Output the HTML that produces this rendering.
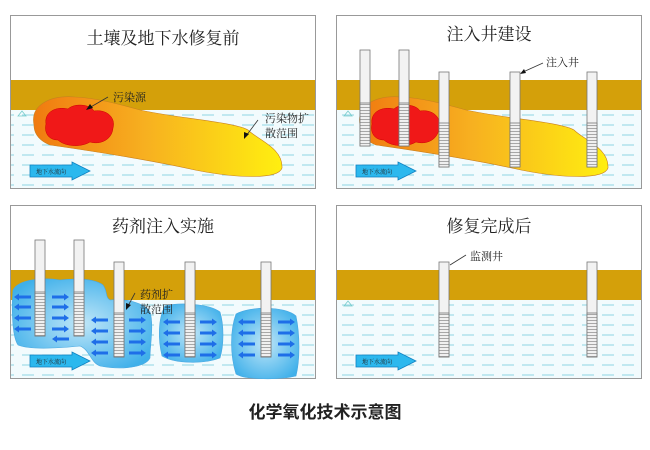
<!DOCTYPE html>
<html><head><meta charset="utf-8"><style>
html,body{margin:0;padding:0;background:#fff;width:650px;height:450px;overflow:hidden}
svg{display:block}
text{font-family:"Liberation Serif","Noto Serif CJK SC",serif}
</style></head><body>
<svg width="650" height="450" viewBox="0 0 650 450" xmlns="http://www.w3.org/2000/svg">
<defs>
<pattern id="water" width="20" height="10" patternUnits="userSpaceOnUse">
<rect width="20" height="10" fill="#f2fbfd"/>
<line x1="2" y1="5" x2="14" y2="5" stroke="#8fd6e2" stroke-width="1"/>
</pattern>
<pattern id="screen" width="10" height="3" patternUnits="userSpaceOnUse">
<rect width="10" height="3" fill="#f0f0f0"/>
<line x1="0" y1="2.5" x2="10" y2="2.5" stroke="#888" stroke-width="0.7"/>
</pattern>
<linearGradient id="plume" x1="0" x2="1" y1="0" y2="0">
<stop offset="0" stop-color="#f07a10"/><stop offset="0.45" stop-color="#f7b020"/><stop offset="1" stop-color="#ffef10"/>
</linearGradient>
<radialGradient id="blob" cx="0.5" cy="0.5" r="0.6">
<stop offset="0" stop-color="#bfe6f8"/><stop offset="1" stop-color="#3fb0ea"/>
</radialGradient>
<g id="gwarrow">
<polygon points="0,3 42,3 42,0 60,9 42,18 42,15 0,15" fill="#2cb8ee" stroke="#1080c0" stroke-width="0.8"/>
<text x="6" y="12" font-size="6" fill="#222">地下水流向</text>
</g>
<g id="ra"><polygon points="0,-1.5 12,-1.5 12,-3.5 17,0 12,3.5 12,1.5 0,1.5" fill="#1e6ee8"/></g>
<g id="la"><polygon points="17,-1.5 5,-1.5 5,-3.5 0,0 5,3.5 5,1.5 17,1.5" fill="#1e6ee8"/></g>
<path id="red" d="M46,124 C44,112 56,106 68,109 C74,103 90,104 94,111 C106,109 116,117 113,128 C112,140 100,145 90,142 C80,148 64,146 58,140 C48,140 44,132 46,124 Z" fill="#f01818" stroke="#c00" stroke-width="0.5"/>
</defs>

<g stroke="#999" stroke-width="1">
<rect x="10.5" y="15.5" width="305" height="173" fill="#fff"/>
<rect x="336.5" y="15.5" width="305" height="173" fill="#fff"/>
<rect x="10.5" y="205.5" width="305" height="173" fill="#fff"/>
<rect x="336.5" y="205.5" width="305" height="173" fill="#fff"/>
</g>
<rect x="11" y="80" width="304" height="30" fill="#d4a00a"/>
<rect x="11" y="110" width="304" height="78" fill="url(#water)"/>
<rect x="337" y="80" width="304" height="30" fill="#d4a00a"/>
<rect x="337" y="110" width="304" height="78" fill="url(#water)"/>
<rect x="11" y="270" width="304" height="30" fill="#d4a00a"/>
<rect x="11" y="300" width="304" height="78" fill="url(#water)"/>
<rect x="337" y="270" width="304" height="30" fill="#d4a00a"/>
<rect x="337" y="300" width="304" height="78" fill="url(#water)"/>
<g fill="none" stroke="#7cc" stroke-width="0.8">
<polygon points="18,116 22,111 26,116"/><polygon points="344,116 348,111 352,116"/><polygon points="344,306 348,301 352,306"/>
</g>

<g font-size="17" fill="#222" text-anchor="middle">
<text x="163" y="44">土壤及地下水修复前</text>
<text x="489" y="40">注入井建设</text>
<text x="163" y="232">药剂注入实施</text>
<text x="489" y="232">修复完成后</text>
</g>

<path d="M34,125 C30,105 50,95 75,97 C95,98 115,103 140,110 C175,118 235,122 248,130 C258,140 283,148 282,168 C278,180 235,178 195,170 C150,160 85,150 50,145 C38,140 34,133 34,125 Z" fill="url(#plume)" stroke="#c88020" stroke-width="0.6"/>
<use href="#red"/>
<g font-size="11" fill="#222"><text x="113" y="101">污染源</text><text x="265" y="122">污染物扩</text><text x="265" y="137">散范围</text></g>
<line x1="108" y1="97" x2="89" y2="108" stroke="#333" stroke-width="0.8"/><polygon points="86,110 90,104 93,108" fill="#111"/>
<line x1="258" y1="120" x2="246" y2="136" stroke="#333" stroke-width="0.8"/><polygon points="244,139 244,132 249,134" fill="#111"/>
<use href="#gwarrow" x="30" y="162"/>

<path d="M360,125 C356,105 376,95 401,97 C421,98 441,103 466,110 C501,118 561,122 574,130 C584,140 609,148 608,168 C604,180 561,178 521,170 C476,160 411,150 376,145 C364,140 360,133 360,125 Z" fill="url(#plume)" stroke="#c88020" stroke-width="0.6"/>
<use href="#red" x="326"/>
<use href="#gwarrow" x="356" y="162"/>
<text x="546" y="66" font-size="11" fill="#222">注入井</text>
<line x1="543" y1="63" x2="523" y2="72" stroke="#333" stroke-width="0.8"/><polygon points="520,74 524,69 526,73" fill="#111"/>

<g stroke="#777" stroke-width="0.8">
<rect x="360" y="50" width="10" height="96" fill="#f2f2f2"/><rect x="360" y="103" width="10" height="43" fill="url(#screen)"/>
<rect x="399" y="50" width="10" height="96" fill="#f2f2f2"/><rect x="399" y="103" width="10" height="43" fill="url(#screen)"/>
<rect x="439" y="72" width="10" height="95" fill="#f2f2f2"/><rect x="439" y="123" width="10" height="44" fill="url(#screen)"/>
<rect x="510" y="72" width="10" height="95" fill="#f2f2f2"/><rect x="510" y="123" width="10" height="44" fill="url(#screen)"/>
<rect x="587" y="72" width="10" height="95" fill="#f2f2f2"/><rect x="587" y="123" width="10" height="44" fill="url(#screen)"/>
</g>

<g fill="url(#blob)" stroke="#4aa8e0" stroke-width="0.6">
<path d="M13,290 C18,280 40,277 60,280 C80,278 95,279 103,285 C108,292 105,297 110,300 C125,298 145,303 150,312 C154,325 150,345 150,358 C145,368 120,370 100,366 C90,362 90,350 80,346 C60,348 30,350 18,345 C11,335 12,300 13,290 Z"/>
<path d="M165,306 C180,302 210,304 220,312 C224,325 224,345 220,358 C205,364 175,364 162,356 C158,340 158,318 165,306 Z"/>
<path d="M236,314 C250,306 285,306 296,316 C300,335 300,360 296,376 C280,380 245,380 236,374 C230,355 230,330 236,314 Z"/>
</g>
<g>
<use href="#la" x="14" y="297"/><use href="#la" x="14" y="307"/><use href="#la" x="14" y="318"/><use href="#la" x="14" y="329"/>
<use href="#ra" x="52" y="297"/><use href="#ra" x="52" y="307"/><use href="#ra" x="52" y="318"/><use href="#ra" x="52" y="329"/><use href="#la" x="52" y="339"/>
<use href="#la" x="91" y="320"/><use href="#la" x="91" y="331"/><use href="#la" x="91" y="342"/><use href="#la" x="91" y="353"/>
<use href="#ra" x="129" y="320"/><use href="#ra" x="129" y="331"/><use href="#ra" x="129" y="342"/><use href="#ra" x="129" y="353"/>
<use href="#la" x="163" y="322"/><use href="#la" x="163" y="333"/><use href="#la" x="163" y="344"/><use href="#la" x="163" y="355"/>
<use href="#ra" x="200" y="322"/><use href="#ra" x="200" y="333"/><use href="#ra" x="200" y="344"/><use href="#ra" x="200" y="355"/>
<use href="#la" x="238" y="322"/><use href="#la" x="238" y="333"/><use href="#la" x="238" y="344"/><use href="#la" x="238" y="355"/>
<use href="#ra" x="278" y="322"/><use href="#ra" x="278" y="333"/><use href="#ra" x="278" y="344"/><use href="#ra" x="278" y="355"/>
</g>
<g stroke="#777" stroke-width="0.8">
<rect x="35" y="240" width="10" height="96" fill="#f2f2f2"/><rect x="35" y="292" width="10" height="44" fill="url(#screen)"/>
<rect x="74" y="240" width="10" height="96" fill="#f2f2f2"/><rect x="74" y="292" width="10" height="44" fill="url(#screen)"/>
<rect x="114" y="262" width="10" height="95" fill="#f2f2f2"/><rect x="114" y="313" width="10" height="44" fill="url(#screen)"/>
<rect x="185" y="262" width="10" height="95" fill="#f2f2f2"/><rect x="185" y="313" width="10" height="44" fill="url(#screen)"/>
<rect x="261" y="262" width="10" height="95" fill="#f2f2f2"/><rect x="261" y="313" width="10" height="44" fill="url(#screen)"/>
</g>
<g font-size="11" fill="#222"><text x="140" y="298">药剂扩</text><text x="140" y="313">散范围</text></g>
<line x1="135" y1="293" x2="128" y2="306" stroke="#333" stroke-width="0.8"/><polygon points="126,310 126,303 131,305" fill="#111"/>
<use href="#gwarrow" x="30" y="352"/>

<g stroke="#777" stroke-width="0.8">
<rect x="439" y="262" width="10" height="95" fill="#f2f2f2"/><rect x="439" y="313" width="10" height="44" fill="url(#screen)"/>
<rect x="587" y="262" width="10" height="95" fill="#f2f2f2"/><rect x="587" y="313" width="10" height="44" fill="url(#screen)"/>
</g>
<text x="470" y="260" font-size="11" fill="#222">监测井</text>
<line x1="466" y1="255" x2="450" y2="265" stroke="#333" stroke-width="0.8"/>
<use href="#gwarrow" x="356" y="352"/>

<text x="325" y="418" font-size="17" font-weight="bold" fill="#222" text-anchor="middle" style="font-family:'Liberation Sans','Noto Sans CJK SC',sans-serif">化学氧化技术示意图</text>
</svg>
</body></html>
